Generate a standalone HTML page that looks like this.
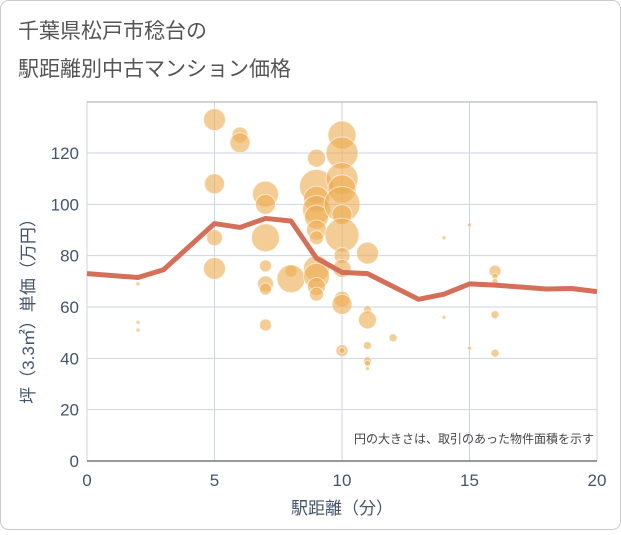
<!DOCTYPE html>
<html><head><meta charset="utf-8"><style>
body{margin:0;background:#fff;}
#c{position:relative;width:621px;height:530px;}
</style></head><body>
<div id="c">
<svg width="621" height="530" xmlns="http://www.w3.org/2000/svg" font-family="Liberation Sans, Noto Sans CJK JP, sans-serif">
<rect x="0.5" y="0.5" width="620" height="529" rx="8" fill="#fff" stroke="#ccc"/>
<text x="18" y="38" font-size="21" fill="#555">千葉県松戸市稔台の</text>
<text x="18" y="76" font-size="21" fill="#555">駅距離別中古マンション価格</text>
<g id="grid"></g>
<g id="bubbles"></g>
<g id="line"></g>
<g id="axes"></g>
<text x="594" y="443" font-size="12" fill="#444" text-anchor="end">円の大きさは、取引のあった物件面積を示す</text>
<text x="342" y="514" font-size="17" fill="#44546a" text-anchor="middle">駅距離（分）</text>
<text transform="translate(34,307) rotate(-90)" font-size="17" fill="#44546a" text-anchor="middle">坪（3.3㎡）単価（万円）</text>
</svg>
</div>
<script>
const xTicks=[0,5,10,15,20];
const yTicks=[0,20,40,60,80,100,120];
const bubbleX=[5,5,5,5,6,6,7,7,7,7,7,7,7,8,8,9,9,9,9,9,9,9,9,9,9,9,10,10,10,10,10,10,10,10,10,10,10,10,10,11,11,11,11,11,11,11,12,2,2,2,14,14,15,15,16,16,16,16,16];
const bubbleY=[133,108,87,75,127,124,104,100,87,76,69,67,53,74,71,118,107,102,98,95,90,87,75,72,68,65,127,120,110,106,100,96,88,80,75,63,61,43,43,81,59,55,45,39,38,36,48,69,54,51,87,56,92,44,74,72,70,57,42];
const bubbleR=[11,10,8,11,8,10,13,10,14,6,8,6,6,6,14,9,17,13,14,12,10,7,13,13,9,7,14,16,16,14,18,10,17,8,9,8,10,6,3,11,4,9,4,4,3,2,4,2,2,2,2,2,2,2,6,3,3,4,4];
const lineX=[0,2,3,5,6,7,8,9,10,11,13,14,15,16,17,18,19,20];
const lineY=[73,71.5,74.5,92.5,91,94.5,93.5,79,73.5,73,63,65,69,68.5,67.8,67,67.2,66];
const NS='http://www.w3.org/2000/svg';
const X0=87,X1=597,Y0=461,Y1=102;
const sx=v=>X0+(X1-X0)*v/20;
const sy=v=>Y0-v*2.5667;
function mk(t,a,p){const e=document.createElementNS(NS,t);for(const k in a)e.setAttribute(k,a[k]);p.appendChild(e);return e;}
const g=document.getElementById('grid'),ax=document.getElementById('axes');
xTicks.forEach(v=>{
 const l=mk('line',{x1:sx(v),x2:sx(v),y1:Y1,y2:Y0,stroke:'#ccd6e2','stroke-width':1},g);
 
 
 const t=mk('text',{x:sx(v),y:Y0+25,'font-size':17,fill:'#44546a','text-anchor':'middle'},ax);
 t.textContent=v;
 
 
});
yTicks.forEach(v=>{
 const l=mk('line',{x1:X0,x2:X1,y1:sy(v),y2:sy(v),stroke:'#ccd6e2','stroke-width':1},g);
 
 
 const t=mk('text',{x:X0-8,y:sy(v)+6,'font-size':17,fill:'#44546a','text-anchor':'end'},ax);
 t.textContent=v;
 
 
});
const topBorder=mk('line',{x1:X0,x2:X1,y1:Y1,y2:Y1,stroke:'#aaa','stroke-width':1},g);


const bl=mk('line',{x1:X0,x2:X1,y1:Y0,y2:Y0,stroke:'#333','stroke-width':1},ax);


const bg=document.getElementById('bubbles');
bubbleX.forEach((v,i)=>{
 const c=mk('circle',{cx:sx(v),cy:sy(bubbleY[i]),r:bubbleR[i],fill:'rgba(236,172,80,0.6)',stroke:'rgba(255,255,255,0.6)','stroke-width':1},bg);
 
 
});
const pl=mk('polyline',{points:lineX.map((v,i)=>sx(v)+','+sy(lineY[i])).join(' '),fill:'none',stroke:'#d4705a','stroke-width':5,'stroke-linejoin':'round'},document.getElementById('line'));


</script>
</body></html>
